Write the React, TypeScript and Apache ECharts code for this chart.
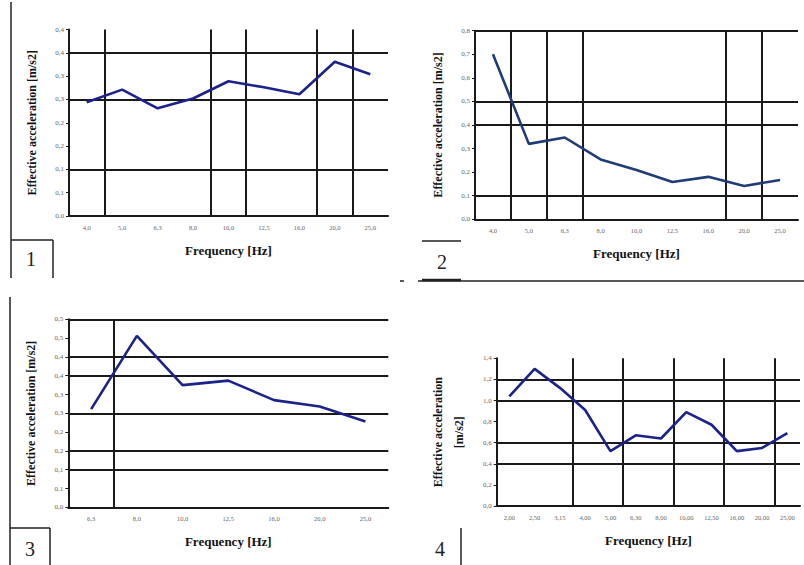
import React, { useEffect, useRef } from "react";
import * as echarts from "echarts";

// ---------- data ----------
const p1Categories = ["4,0", "5,0", "6,3", "8,0", "10,0", "12,5", "16,0", "20,0", "25,0"];
const p1Values = [0.244, 0.271, 0.231, 0.252, 0.289, 0.276, 0.261, 0.331, 0.304];
const p1YTicks = ["0,0", "0,1", "0,1", "0,2", "0,2", "0,3", "0,3", "0,4", "0,4"];
const p1HLines = [0.35, 0.25, 0.1];
const p1VLines = [1, 4, 5, 7, 8];

const p2Categories = ["4,0", "5,0", "6,3", "8,0", "10,0", "12,5", "16,0", "20,0", "25,0"];
const p2Values = [0.7, 0.32, 0.347, 0.254, 0.209, 0.158, 0.18, 0.141, 0.167];
const p2YTicks = ["0,0", "0,1", "0,2", "0,3", "0,4", "0,5", "0,6", "0,7", "0,8"];
const p2HLines = [0.8, 0.5, 0.4, 0.1];
const p2VLines = [1, 2, 3, 7, 8];

const p3Categories = ["6,3", "8,0", "10,0", "12,5", "16,0", "20,0", "25,0"];
const p3Values = [0.261, 0.456, 0.325, 0.337, 0.285, 0.268, 0.228];
const p3YTicks = ["0,0", "0,1", "0,1", "0,2", "0,2", "0,3", "0,3", "0,4", "0,4", "0,5", "0,5"];
const p3HLines = [0.5, 0.4, 0.35, 0.25, 0.15, 0.1];
const p3VLines = [1];

const p4Categories = ["2,00", "2,50", "3,15", "4,00", "5,00", "6,30", "8,00", "10,00", "12,50", "16,00", "20,00", "25,00"];
const p4Values = [1.04, 1.3, 1.12, 0.91, 0.52, 0.67, 0.64, 0.89, 0.77, 0.52, 0.55, 0.69];
const p4YTicks = ["0,0", "0,2", "0,4", "0,6", "0,8", "1,0", "1,2", "1,4"];
const p4HLines = [1.2, 1.0, 0.6, 0.4];
const p4VLines = [3, 5, 7, 9, 11];

const xTitle = "Frequency [Hz]";
const yTitle = "Effective acceleration [m/s2]";
const yTitle4 = "Effective acceleration\n[m/s2]";

// ---------- layout / style ----------
type Panel = {
  cats: string[];
  vals: number[];
  ticks: string[];
  hLines: number[];
  vLines: number[];
  max: number;
  interval: number;
  grid: { left: number; top: number; width: number; height: number };
  color: string;
  yName: string;
};

const panels: Panel[] = [
  { cats: p1Categories, vals: p1Values, ticks: p1YTicks, hLines: p1HLines, vLines: p1VLines, max: 0.4, interval: 0.05,
    grid: { left: 69, top: 29.5, width: 319, height: 186.5 }, color: "#1d228a", yName: yTitle },
  { cats: p2Categories, vals: p2Values, ticks: p2YTicks, hLines: p2HLines, vLines: p2VLines, max: 0.8, interval: 0.1,
    grid: { left: 475, top: 30.7, width: 323, height: 188.6 }, color: "#203c76", yName: yTitle },
  { cats: p3Categories, vals: p3Values, ticks: p3YTicks, hLines: p3HLines, vLines: p3VLines, max: 0.5, interval: 0.05,
    grid: { left: 68.3, top: 319.3, width: 320, height: 188 }, color: "#1d228a", yName: yTitle },
  { cats: p4Categories, vals: p4Values, ticks: p4YTicks, hLines: p4HLines, vLines: p4VLines, max: 1.4, interval: 0.2,
    grid: { left: 496.7, top: 358.3, width: 303.3, height: 147.7 }, color: "#1d228a", yName: yTitle4 },
];

const SERIF = "'Liberation Serif', 'DejaVu Serif', serif";
const GRID_COLOR = "#1a1a1a";

function buildOption() {
  const grid: any[] = [];
  const xAxis: any[] = [];
  const yAxis: any[] = [];
  const series: any[] = [];

  panels.forEach((p, i) => {
    grid.push({ ...p.grid, containLabel: false });
    xAxis.push({
      type: "category",
      gridIndex: i,
      data: p.cats,
      boundaryGap: true,
      axisLine: { show: true, lineStyle: { color: GRID_COLOR, width: 2 } },
      axisTick: { show: false },
      splitLine: { show: false },
      axisLabel: { interval: 0, fontSize: 6.5, color: "#666", fontFamily: SERIF, margin: 8, hideOverlap: false },
      name: xTitle,
      nameLocation: "middle",
      nameGap: 28,
      nameTextStyle: { fontFamily: SERIF, fontWeight: "bold", fontSize: 13, color: "#111" },
    });
    xAxis.push({
      type: "value",
      gridIndex: i,
      min: 0,
      max: p.cats.length,
      show: false,
      splitLine: { show: false },
    });
    yAxis.push({
      type: "value",
      gridIndex: i,
      min: 0,
      max: p.max,
      interval: p.interval,
      axisLine: { show: true, lineStyle: { color: GRID_COLOR, width: 2 } },
      axisTick: { show: true, length: 3, lineStyle: { color: GRID_COLOR, width: 1 } },
      splitLine: { show: false },
      axisLabel: {
        fontSize: 7,
        color: "#666",
        fontFamily: SERIF,
        margin: 5,
        formatter: (v: number) => p.ticks[Math.round(v / p.interval)] ?? "",
      },
      name: p.yName,
      nameLocation: "middle",
      nameGap: 27,
      nameRotate: 90,
      nameTextStyle: { fontFamily: SERIF, fontWeight: "bold", fontSize: 12, color: "#111", lineHeight: 21 },
    });
    // grid lines (irregular, as in the scanned original)
    series.push({
      type: "line",
      xAxisIndex: 2 * i + 1,
      yAxisIndex: i,
      data: [],
      symbol: "none",
      silent: true,
      z: 1,
      markLine: {
        silent: true,
        symbol: ["none", "none"],
        label: { show: false },
        z: 1,
        lineStyle: { color: GRID_COLOR, width: 2, type: "solid" },
        data: [
          ...p.hLines.map((v) => ({ yAxis: v })),
          ...p.vLines.map((v) => ({ xAxis: v })),
        ],
      },
    });
    series.push({
      type: "line",
      xAxisIndex: 2 * i,
      yAxisIndex: i,
      data: p.vals,
      symbol: "none",
      z: 10,
      lineStyle: { color: p.color, width: 2.6 },
    });
  });

  const L = (x1: number, y1: number, x2: number, y2: number, w = 1.5) => ({
    type: "line",
    shape: { x1, y1, x2, y2 },
    style: { stroke: "#222", lineWidth: w },
    silent: true,
  });
  const T = (text: string, x: number, y: number) => ({
    type: "text",
    x,
    y,
    style: { text, fontFamily: SERIF, fontSize: 20, fill: "#222", align: "center", verticalAlign: "middle" },
    silent: true,
  });

  const graphic = [
    // panel 1 frame
    L(11, 2, 11, 278),
    L(11, 240, 53, 240),
    L(53, 240, 53, 278),
    T("1", 31, 259),
    // panel 2 frame
    L(422, 241, 461, 241),
    L(418, 281, 804, 281),
    L(422, 280, 461, 280, 2.5),
    L(400, 281, 404, 281),
    T("2", 442, 262),
    // panel 3 frame
    L(10, 297, 10, 565),
    L(10, 528, 50, 528),
    L(50, 528, 50, 565),
    T("3", 30, 549),
    // panel 4 frame
    L(461, 528, 461, 565),
    T("4", 440, 549),
  ];

  return {
    animation: false,
    backgroundColor: "#ffffff",
    grid,
    xAxis,
    yAxis,
    series,
    graphic,
  };
}

export default function App() {
  const ref = useRef<HTMLDivElement>(null);
  useEffect(() => {
    if (!ref.current) return;
    const chart = echarts.init(ref.current, undefined, { renderer: "svg" });
    chart.setOption(buildOption() as any);
    return () => chart.dispose();
  }, []);
  return (
    <div
      ref={ref}
      style={{ position: "fixed", left: 0, top: 0, width: 804, height: 565, background: "#fff" }}
    />
  );
}
